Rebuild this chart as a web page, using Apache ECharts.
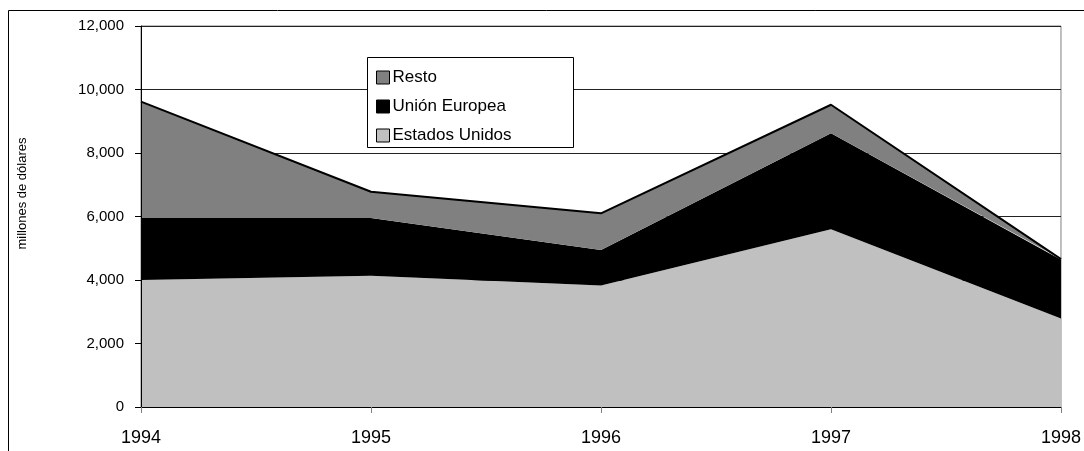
<!DOCTYPE html>
<html>
<head>
<meta charset="utf-8">
<title>Exportaciones</title>
<script src="https://cdn.jsdelivr.net/npm/echarts@6/dist/echarts.min.js"></script>
<style>
	html, body { margin: 0; padding: 0; background: #fff; }
	#chart_area { width: 1084px; height: 451px; }
</style>
</head>
<body>
<div id="chart_area"></div>
<script>
// datos (millones de dólares)
var anios = ["1994", "1995", "1996", "1997", "1998"];
var estadosUnidos = [4000, 4130, 3830, 5600, 2790];
var unionEuropea = [1950, 1820, 1115, 3020, 1850];
var resto = [3670, 830, 1155, 900, 20];
var yTicks = [0, 2000, 4000, 6000, 8000, 10000, 12000];
var legendData = ["Resto", "Unión Europea", "Estados Unidos"];

var fontName = "'Liberation Sans', Arial, sans-serif";

function fmtMiles(v) {
	return String(v).replace(/\B(?=(\d{3})+(?!\d))/g, ",");
}

function chart_area(strPostID) {
	var yMin = yTicks[0];
	var yMax = yTicks[yTicks.length - 1];
	var option_area = {
		animation: false,
		textStyle: { fontFamily: fontName },
		grid: {
			left: 141,
			right: 17,
			top: 26,
			bottom: 44,
			show: true,
			borderColor: '#808080',
			borderWidth: 1,
			backgroundColor: 'transparent'
		},
		legend: {
			data: legendData,
			orient: 'vertical',
			left: 367,
			top: 57,
			z: 20,
			padding: [12, 10, 10, 9],
			itemGap: 12,
			itemWidth: 13,
			itemHeight: 13,
			icon: 'rect',
			itemStyle: {
				borderColor: '#000',
				borderWidth: 1
			},
			textStyle: {
				fontFamily: fontName,
				fontSize: 17,
				color: '#000',
				padding: [0, 0, 0, -2]
			},
			selectedMode: false
		},
		xAxis: {
			type: 'category',
			data: anios,
			boundaryGap: false,
			axisLine: { lineStyle: { color: '#000', width: 1 } },
			axisTick: { length: 6, lineStyle: { color: '#808080' } },
			axisLabel: {
				margin: 22,
				fontSize: 18,
				color: '#000',
				fontFamily: fontName
			},
			z: 10
		},
		yAxis: [{
			// eje principal (encima de las areas)
			type: 'value',
			min: yMin,
			max: yMax,
			interval: 2000,
			name: 'millones de dólares',
			nameLocation: 'middle',
			nameGap: 112,
			nameTextStyle: {
				fontSize: 13,
				color: '#000',
				fontFamily: fontName,
				padding: [0, 0, 0, 46]
			},
			axisLine: { show: true, lineStyle: { color: '#000', width: 1 } },
			axisTick: { show: true, length: 6, lineStyle: { color: '#000' } },
			axisLabel: {
				margin: 17,
				fontSize: 15,
				color: '#000',
				fontFamily: fontName,
				formatter: function(v) { return fmtMiles(v); }
			},
			splitLine: { show: false },
			z: 10
		}, {
			// solo lineas de division, debajo de las areas
			type: 'value',
			position: 'left',
			min: yMin,
			max: yMax,
			interval: 2000,
			axisLine: { show: false },
			axisTick: { show: false },
			axisLabel: { show: false },
			splitLine: { show: true, lineStyle: { color: '#222', width: 1 } },
			z: 1
		}],
		graphic: [
			{
				// marco exterior
				type: 'rect',
				z: 0,
				silent: true,
				shape: { x: 8.5, y: 10.5, width: 1100, height: 500 },
				style: { fill: 'none', stroke: '#000', lineWidth: 1 }
			},
			{
				// caja de la leyenda
				type: 'rect',
				z: 15,
				silent: true,
				shape: { x: 367.5, y: 57.5, width: 206, height: 90 },
				style: { fill: '#fff', stroke: '#000', lineWidth: 1 }
			}
		],
		series: [
			{
				name: "Estados Unidos",
				type: 'line',
				stack: 'total',
				data: estadosUnidos,
				symbol: 'none',
				lineStyle: { width: 0 },
				itemStyle: { color: '#c0c0c0' },
				areaStyle: { color: '#c0c0c0', opacity: 1 },
				z: 2
			},
			{
				name: "Unión Europea",
				type: 'line',
				stack: 'total',
				data: unionEuropea,
				symbol: 'none',
				lineStyle: { width: 0 },
				itemStyle: { color: '#000000' },
				areaStyle: { color: '#000000', opacity: 1 },
				z: 2
			},
			{
				name: "Resto",
				type: 'line',
				stack: 'total',
				data: resto,
				symbol: 'none',
				lineStyle: { width: 2, color: '#000' },
				itemStyle: { color: '#808080' },
				areaStyle: { color: '#808080', opacity: 1 },
				z: 3
			}
		]
	};
	var areaChart = echarts.init(document.getElementById(strPostID));
	areaChart.setOption(option_area);
}

chart_area("chart_area");
</script>
</body>
</html>
